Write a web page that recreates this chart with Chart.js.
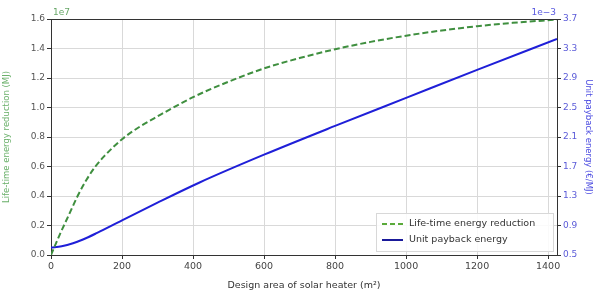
<!DOCTYPE html>
<html><head><meta charset="utf-8">
<script src="https://cdn.jsdelivr.net/npm/chart.js@4/dist/chart.umd.min.js"></script>
<style>html,body{margin:0;padding:0;background:#fff}#wrap{width:595px;height:295px;position:relative}</style>
</head><body><div id="wrap"><canvas id="c" width="595" height="295"></canvas></div>
<script>
// Design area (m2)
const areaEnergy = [0, 25, 50, 75, 100, 125, 150, 200, 250, 300, 400, 500, 600, 700, 800, 900, 1000, 1100, 1200, 1300, 1425];
// Life-time energy reduction (x1e7 MJ)
const energyReduction = [0.0, 0.14, 0.27, 0.40, 0.51, 0.60, 0.67, 0.785, 0.87, 0.94, 1.07, 1.175, 1.265, 1.335, 1.395, 1.445, 1.487, 1.522, 1.551, 1.574, 1.596];
const areaPayback = [0, 30, 62, 90, 130, 200, 300, 417, 600, 800, 1000, 1200, 1425];
// Unit payback energy (x1e-3 €/MJ)
const paybackEnergy = [0.60, 0.62, 0.66, 0.71, 0.80, 0.97, 1.21, 1.48, 1.86, 2.25, 2.63, 3.01, 3.43];
const xTicks = [0, 200, 400, 600, 800, 1000, 1200, 1400];
const leftTicks = [0.0, 0.2, 0.4, 0.6, 0.8, 1.0, 1.2, 1.4, 1.6];
const rightTicks = [0.5, 0.9, 1.3, 1.7, 2.1, 2.5, 2.9, 3.3, 3.7];
const labels = ['Life-time energy reduction', 'Unit payback energy'];

const GREEN = '#3f8f3f', BLUE = '#1f1fd8';
const FONT = 'DejaVu Sans';

const extras = {
  id: 'extras',
  afterDraw(chart) {
    const {ctx, chartArea: a} = chart;
    ctx.save();
    ctx.strokeStyle = '#333'; ctx.lineWidth = 1;
    ctx.beginPath(); ctx.moveTo(a.left, a.top + 0.5); ctx.lineTo(a.right, a.top + 0.5); ctx.stroke();
    ctx.font = '9px ' + FONT; ctx.textBaseline = 'bottom';
    ctx.fillStyle = '#6aa86a'; ctx.textAlign = 'left';
    ctx.fillText('1e7', a.left + 2, a.top - 2);
    ctx.fillStyle = '#5a5ae0'; ctx.textAlign = 'right';
    ctx.fillText('1e\u22123', a.right - 1, a.top - 2);
    // legend
    const lx = 376, ly = 213, lw = 177, lh = 38;
    ctx.fillStyle = 'rgba(255,255,255,0.85)'; ctx.fillRect(lx, ly, lw, lh);
    ctx.strokeStyle = '#d8d8d8'; ctx.strokeRect(lx + 0.5, ly + 0.5, lw, lh);
    ctx.lineWidth = 2;
    ctx.strokeStyle = '#5aaa3a'; ctx.setLineDash([5, 3]);
    ctx.beginPath(); ctx.moveTo(382, 224); ctx.lineTo(403, 224); ctx.stroke();
    ctx.setLineDash([]); ctx.strokeStyle = '#1a1a9a';
    ctx.beginPath(); ctx.moveTo(382, 240); ctx.lineTo(403, 240); ctx.stroke();
    ctx.fillStyle = '#333'; ctx.textAlign = 'left'; ctx.textBaseline = 'middle';
    ctx.font = '9.5px ' + FONT;
    ctx.fillText(labels[0], 409, 224);
    ctx.fillText(labels[1], 409, 240);
    ctx.restore();
  }
};

new Chart(document.getElementById('c'), {
  type: 'line',
  data: {
    datasets: [
      {label: labels[0], data: areaEnergy.map((x, i) => ({x, y: energyReduction[i]})), yAxisID: 'y', borderColor: GREEN, borderWidth: 2, borderDash: [6, 3], pointRadius: 0, cubicInterpolationMode: 'monotone'},
      {label: labels[1], data: areaPayback.map((x, i) => ({x, y: paybackEnergy[i]})), yAxisID: 'y1', borderColor: BLUE, borderWidth: 2, pointRadius: 0, cubicInterpolationMode: 'monotone'}
    ]
  },
  plugins: [extras],
  options: {
    responsive: false, animation: false,
    layout: {padding: {top: 19, left: 0, right: 0, bottom: 0}},
    plugins: {legend: {display: false}, tooltip: {enabled: false}},
    scales: {
      x: {
        type: 'linear', min: 0, max: 1425,
        afterBuildTicks: s => { s.ticks = xTicks.map(v => ({value: v})); },
        afterFit: s => { s.height = 40; },
        ticks: {color: '#444', font: {family: FONT, size: 9.5}, padding: 2, maxRotation: 0, callback: v => String(v)},
        grid: {color: '#d9d9d9', tickLength: 4, tickColor: '#333'},
        border: {color: '#333', width: 1},
        title: {display: true, text: 'Design area of solar heater (m²)', color: '#333', font: {family: FONT, size: 9.5}, padding: {top: 2}}
      },
      y: {
        position: 'left', min: 0, max: 1.6,
        afterBuildTicks: s => { s.ticks = leftTicks.map(v => ({value: v})); },
        afterFit: s => { s.width = 51; },
        ticks: {color: '#555', font: {family: FONT, size: 9}, padding: 2, callback: v => v.toFixed(1)},
        grid: {color: '#d9d9d9', tickLength: 4, tickColor: '#333'},
        border: {color: '#333', width: 1},
        title: {display: true, text: 'Life-time energy reduction (MJ)', color: '#6ab06a', font: {family: FONT, size: 8.5}, padding: 2}
      },
      y1: {
        position: 'right', min: 0.5, max: 3.7,
        afterBuildTicks: s => { s.ticks = rightTicks.map(v => ({value: v})); },
        afterFit: s => { s.width = 38; },
        ticks: {color: '#5a5ad8', font: {family: FONT, size: 9}, padding: 2, callback: v => v.toFixed(1)},
        grid: {display: true, drawOnChartArea: false, tickLength: 4, tickColor: '#333'},
        border: {color: '#333', width: 1},
        title: {display: true, text: 'Unit payback energy (€/MJ)', color: '#4a4ae0', font: {family: FONT, size: 8.5}, padding: 2}
      }
    }
  }
});
</script></body></html>
